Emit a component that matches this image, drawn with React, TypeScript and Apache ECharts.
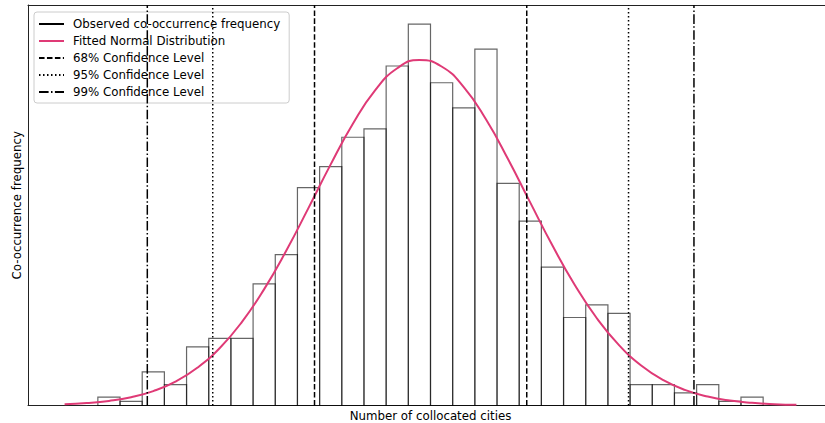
import React, { useEffect, useRef } from "react";
import * as echarts from "echarts";

// Histogram: bins of width 1 starting at 0 (arbitrary units, no tick labels shown)
const binStart = 0;
const binWidth = 1;
const counts = [2, 1, 8, 5, 14, 16, 16, 29, 36, 52, 57, 64, 66, 81, 91, 77, 71, 85, 53, 44, 33, 21, 24, 22, 5, 5, 3, 5, 1, 2];

// Fitted normal curve
const curveX = [-1.5, -0.5, 0.5, 1.5, 2.5, 3.5, 4.5, 5.5, 6.5, 7.5, 8.5, 9.5, 10.5, 11.5, 12.5, 13.5, 14.5, 15.5, 16.5, 17.5, 18.5, 19.5, 20.5, 21.5, 22.5, 23.5, 24.5, 25.5, 26.5, 27.5, 28.5, 29.5, 30.5, 31.5];
const curveY = [0.3, 0.58, 1.1, 1.99, 3.44, 5.7, 9.05, 13.73, 19.96, 27.77, 36.98, 47.15, 57.53, 67.21, 75.16, 80.47, 82.45, 80.88, 75.95, 68.28, 58.75, 48.4, 38.16, 28.8, 20.81, 14.4, 9.53, 6.04, 3.67, 2.13, 1.18, 0.63, 0.32, 0.16];

// Confidence level positions (lower, upper)
const ci68 = [9.77, 19.34];
const ci95 = [5.18, 23.93];
const ci99 = [2.23, 26.88];

const xMin = -3.15;
const xMax = 33.15;
const yMax = 95.55;

const FONT = "DejaVu Sans";
const FS = 11.8;
const SPINE = { show: true, lineStyle: { color: "#222", width: 1 } };

export default function App() {
  const ref = useRef<HTMLDivElement>(null);
  useEffect(() => {
    if (!ref.current) return;
    const chart = echarts.init(ref.current, null, { renderer: "svg" });
    const histData = counts.map((c, i) => [binStart + i * binWidth, binStart + (i + 1) * binWidth, c]);
    const vline = (name: string, x: number, type: number[]) => ({
      name,
      type: "line",
      data: [[x, 0], [x, yMax]],
      symbol: "none",
      color: "#000",
      lineStyle: { color: "#000", width: 1.5, type },
      z: 4,
    });
    const dashed = [5.55, 2.4];
    const dotted = [1.5, 2.5];
    const dashdot = [9.6, 2.4, 1.5, 2.4];
    const hidden = {
      axisTick: { show: false },
      axisLabel: { show: false },
      splitLine: { show: false },
    };
    chart.setOption({
      animation: false,
      grid: {
        left: 28,
        top: 5,
        width: 805,
        height: 400.5,
        outerBoundsMode: "none",
        containLabel: false,
      },
      legend: {
        orient: "vertical",
        left: 34,
        top: 12,
        padding: [6, 9, 5, 4],
        itemWidth: 25,
        itemHeight: 14,
        itemGap: 5,
        itemStyle: { opacity: 0, borderWidth: 0 },
        backgroundColor: "rgba(255,255,255,0.8)",
        borderColor: "#ccc",
        borderWidth: 1,
        borderRadius: 3,
        textStyle: { fontFamily: FONT, fontSize: FS, color: "#000", padding: [0, 0, 0, 4] },
        data: [
          "Observed co-occurrence frequency",
          "Fitted Normal Distribution",
          "68% Confidence Level",
          "95% Confidence Level",
          "99% Confidence Level",
        ],
      },
      xAxis: [
        {
          type: "value",
          position: "bottom",
          min: xMin,
          max: xMax,
          name: "Number of collocated cities",
          nameLocation: "middle",
          nameGap: 4,
          nameTextStyle: { fontFamily: FONT, fontSize: FS, color: "#000" },
          axisLine: { ...SPINE, onZero: false },
          ...hidden,
        },
        {
          type: "value",
          position: "top",
          min: xMin,
          max: xMax,
          axisLine: { ...SPINE, onZero: false },
          ...hidden,
        },
      ],
      yAxis: {
        type: "value",
        min: 0,
        max: yMax,
        name: "Co-occurrence frequency",
        nameLocation: "middle",
        nameRotate: 90,
        nameGap: 5,
        nameTextStyle: { fontFamily: FONT, fontSize: FS, color: "#000" },
        axisLine: { ...SPINE, onZero: false },
        ...hidden,
      },
      series: [
        {
          name: "hist",
          type: "custom",
          data: histData,
          encode: { x: [0, 1], y: 2 },
          renderItem: (params: any, api: any) => {
            const p0 = api.coord([api.value(0), api.value(2)]);
            const p1 = api.coord([api.value(1), 0]);
            return {
              type: "rect",
              shape: { x: p0[0], y: p0[1], width: p1[0] - p0[0], height: p1[1] - p0[1] },
              style: { fill: "none", stroke: "rgba(0,0,0,0.6)", lineWidth: 1.2 },
            };
          },
          z: 2,
        },
        {
          name: "Observed co-occurrence frequency",
          type: "line",
          data: [],
          symbol: "none",
          color: "#000",
          lineStyle: { color: "#000", width: 1.5 },
        },
        {
          name: "Fitted Normal Distribution",
          type: "line",
          data: curveX.map((x, i) => [x, curveY[i]]),
          symbol: "none",
          smooth: true,
          color: "#df3a76",
          lineStyle: { color: "#df3a76", width: 2 },
          z: 3,
        },
        vline("68% Confidence Level", ci68[0], dashed),
        vline("68% Confidence Level", ci68[1], dashed),
        vline("95% Confidence Level", ci95[0], dotted),
        vline("95% Confidence Level", ci95[1], dotted),
        vline("99% Confidence Level", ci99[0], dashdot),
        vline("99% Confidence Level", ci99[1], dashdot),
      ],
    });
    return () => chart.dispose();
  }, []);
  return (
    <div
      ref={ref}
      style={{ position: "fixed", left: 0, top: 0, width: 825, height: 423, background: "#fff" }}
    />
  );
}
